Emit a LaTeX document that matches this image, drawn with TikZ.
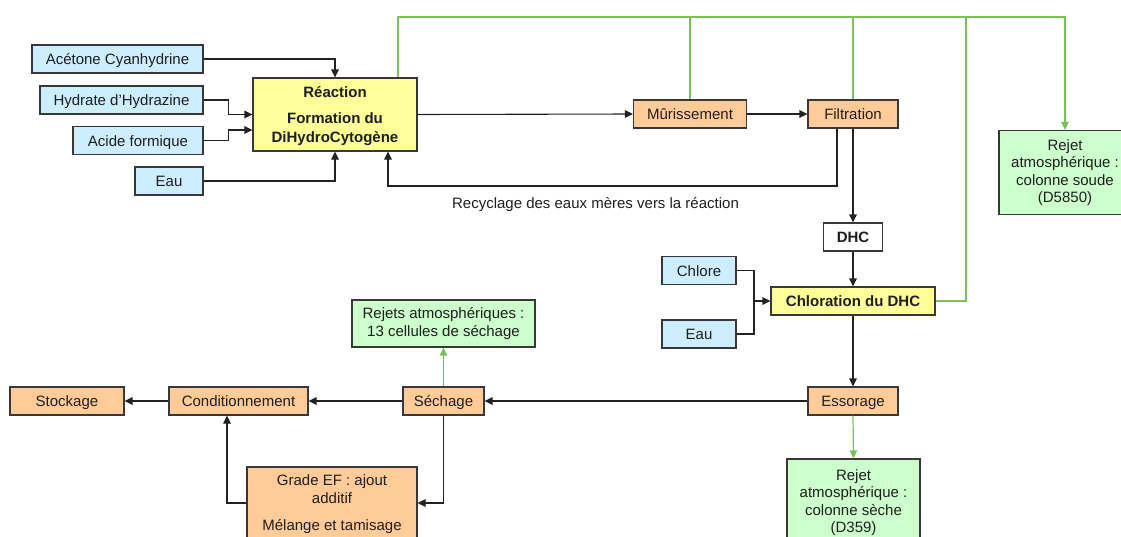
\documentclass[tikz,border=0pt]{standalone}
\usepackage{fontspec}
\setmainfont{Liberation Sans}
\usetikzlibrary{arrows.meta,calc}
\definecolor{bluef}{HTML}{CCEEFF}
\definecolor{orangef}{HTML}{FFCC99}
\definecolor{yellowf}{HTML}{FFFF99}
\definecolor{greenf}{HTML}{CCFFCC}
\definecolor{glinec}{HTML}{7DBF5A}
\definecolor{bord}{HTML}{383838}
\definecolor{txt}{HTML}{1E1E1E}
\definecolor{linec}{HTML}{222222}
\newcommand{\fsz}{\fontsize{15}{17.5}\selectfont}
\begin{document}
\begin{tikzpicture}[x=1pt,y=-1pt,
  box/.style={draw=bord, line width=1.1pt, minimum height=28pt, inner sep=0pt,
    align=center, font=\fsz, text=txt},
  one/.style={text height=11pt, text depth=0pt},
  bluebox/.style={box, fill=bluef},
  orbox/.style={box, fill=orangef},
  yelbox/.style={box, fill=yellowf},
  grbox/.style={box, fill=greenf},
  whbox/.style={box, fill=white},
  conn/.style={draw=linec, line width=1.1pt},
  arr/.style={conn, -{Triangle[length=8pt,width=7.5pt]}},
  gconn/.style={draw=glinec, line width=1.2pt},
  garr/.style={gconn, -{Triangle[length=8pt,width=7.5pt]}}
]
\useasboundingbox (0,0) rectangle (1121,536);

% input boxes
\node[bluebox, one, minimum width=171pt] (ace) at (117.5,59) {Acétone Cyanhydrine};
\node[bluebox, one, minimum width=163pt] (hyd) at (121.5,100) {Hydrate d’Hydrazine};
\node[bluebox, one, minimum width=130pt] (aci) at (138,140.5) {Acide formique};
\node[bluebox, one, minimum width=68pt] (eau1) at (169,181) {Eau};
\node[yelbox, minimum width=164pt, minimum height=73pt, font=\fontsize{15}{19}\selectfont\bfseries] (rea) at (335,114.5) {\rule{0pt}{15pt}Réaction\\[7pt]Formation du\\DiHydroCytogène};

\node[orbox, one, minimum width=113pt] (mur) at (690,114) {Mûrissement};
\node[orbox, one, minimum width=90pt] (fil) at (853,114) {Filtration};
\node[grbox, minimum width=132pt, minimum height=84pt] (rej1) at (1065,172.5) {Rejet\\atmosphérique :\\colonne soude\\(D5850)};

\node[whbox, one, minimum width=59pt, font=\fsz\bfseries] (dhc) at (853,237) {DHC};
\node[bluebox, one, minimum width=74pt] (chlo) at (699,270.5) {Chlore};
\node[bluebox, one, minimum width=74pt] (eau2) at (699,334) {Eau};
\node[yelbox, one, minimum width=164pt, font=\fsz\bfseries] (chl) at (853,301) {Chloration du DHC};

\node[grbox, minimum width=183pt, minimum height=47pt] (rej13) at (443.5,323.5) {Rejets atmosphériques :\\13 cellules de séchage};
\node[orbox, one, minimum width=114pt] (sto) at (67,401) {Stockage};
\node[orbox, one, minimum width=139pt] (cond) at (238.5,401) {Conditionnement};
\node[orbox, one, minimum width=81pt] (sech) at (443.5,401) {Séchage};
\node[orbox, one, minimum width=90pt] (ess) at (853,401) {Essorage};
\node[orbox, minimum width=170pt, minimum height=75pt] (grade) at (332,504.5) {Grade EF : ajout\\additif\\[10pt]Mélange et tamisage};
\node[grbox, minimum width=133pt, minimum height=83pt] (rej2) at (853.5,500.5) {\rule{0pt}{15pt}Rejet\\atmosphérique :\\colonne sèche\\(D359)};

\node[font=\fsz, text=txt, inner sep=0pt] (recl) at (595.5,205) {Recyclage des eaux mères vers la réaction};

% coordinates
\coordinate (top) at (398,17);
\coordinate (rc) at (837,186);
\coordinate (jn) at (754,301);
\coordinate (gc) at (966,301);

% black connectors
\draw[arr] (ace.east) -| (rea.north);
\draw[arr] (hyd.east) -- ++(25,0) |- (rea.west);
\draw[arr] (aci.east) -- ++(25,0) |- ([yshift=-15.5pt]rea.west);
\draw[arr] (eau1.east) -| (rea.south);
\draw[arr] (rea.east) -- (mur.west);
\draw[arr] (mur.east) -- (fil.west);
\draw[arr] (fil.south -| rc) -- (rc) -| ([xshift=53pt]rea.south);
\draw[arr] (fil.south) -- (dhc.north);
\draw[arr] (dhc.south) -- (chl.north);
\draw[conn] (chlo.east) -| (jn);
\draw[conn] (eau2.east) -| (jn);
\draw[arr] (jn) -- (chl.west);
\draw[arr] (chl.south) -- (ess.north);
\draw[arr] (ess.west) -- (sech.east);
\draw[arr] (sech.west) -- (cond.east);
\draw[arr] (cond.west) -- (sto.east);
\draw[arr] (sech.south) |- ([yshift=1.5pt]grade.east);
\draw[arr] ([yshift=1.5pt]grade.west) -| ([xshift=-11.5pt]cond.south);

% green connectors
\draw[garr] ([xshift=63pt]rea.north) -- (top) -| (rej1.north);
\draw[gconn] (mur.north) -- (mur.north |- top);
\draw[gconn] (fil.north) -- (fil.north |- top);
\draw[gconn] (chl.east) -- (gc) -- (gc |- top);
\draw[garr] (sech.north) -- (rej13.south);
\draw[garr] (ess.south) -- (rej2.north);
\end{tikzpicture}
\end{document}
